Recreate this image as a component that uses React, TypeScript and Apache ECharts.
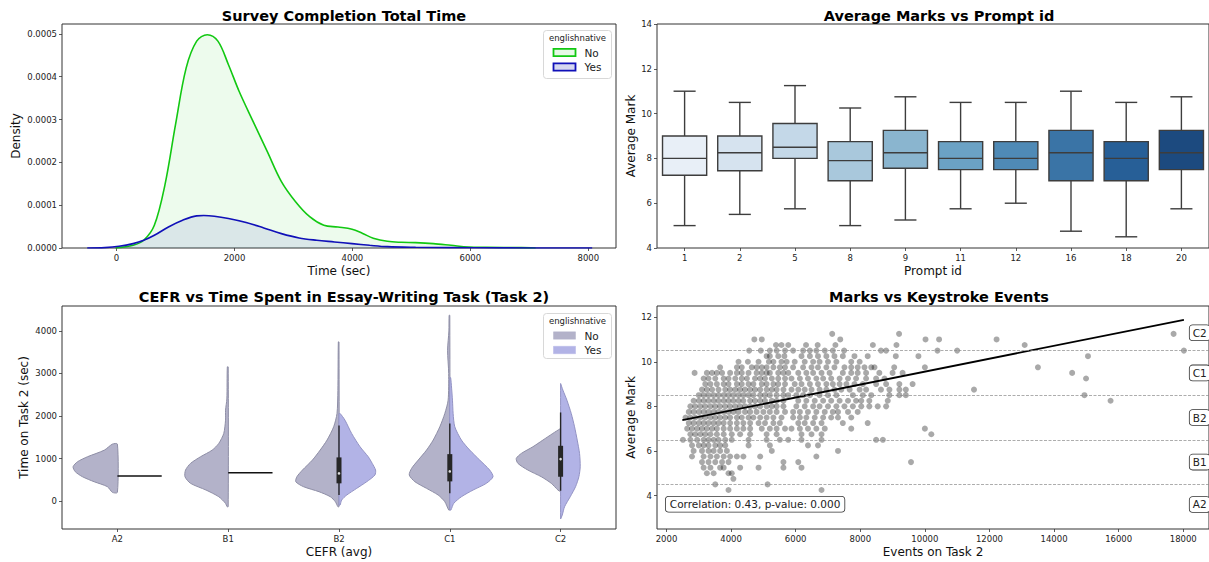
import React, { useEffect, useRef } from "react";
import * as echarts from "echarts";

const FONT = "DejaVu Sans, sans-serif";
const TICK_FS = 8.5;
const NAME_FS = 12;
const TITLE_FS = 14.5;

// ---------- Panel 1: Survey completion KDE ----------
const kdeNoTime = [-18, 281, 461, 641, 820, 1000, 1180, 1359, 1539, 1719, 1898, 2078, 2317, 2557, 2796, 3036, 3275, 3515, 3754, 3994, 4174, 4353, 4593, 4832, 5072, 5371, 5671, 5970, 6269, 6868, 7108];
const kdeNoDensity = [0, 0.0000063, 0.000018, 0.000053, 0.000147, 0.000288, 0.00042, 0.000483, 0.000498, 0.000483, 0.000428, 0.000366, 0.000295, 0.000225, 0.000155, 0.000108, 0.000073, 0.000053, 0.000049, 0.000044, 0.000034, 0.000023, 0.0000156, 0.0000133, 0.0000125, 0.0000102, 0.0000063, 0.0000023, 0.0000016, 0.0000008, 0];
const kdeYesTime = [-497, -198, 42, 281, 461, 641, 880, 1120, 1359, 1479, 1659, 1898, 2198, 2497, 2796, 3096, 3395, 3695, 3994, 4293, 4593, 5072, 5671, 6500, 8066];
const kdeYesDensity = [0, 0.0000008, 0.0000039, 0.0000102, 0.000018, 0.0000297, 0.0000492, 0.0000648, 0.000075, 0.0000758, 0.0000742, 0.0000688, 0.0000594, 0.0000469, 0.0000336, 0.0000234, 0.000018, 0.0000141, 0.0000102, 0.0000063, 0.0000031, 0.0000016, 0.0000008, 0.0000003, 0];
const kdeTimeTicks = [0, 2000, 4000, 6000, 8000];
const kdeDensityTicks = [0, 0.0001, 0.0002, 0.0003, 0.0004, 0.0005];

// ---------- Panel 2: Average marks by prompt ----------
const promptIds = ["1", "2", "5", "8", "9", "11", "12", "16", "18", "20"];
const boxMin = [5.0, 5.5, 5.75, 5.0, 5.25, 5.75, 6.0, 4.75, 4.5, 5.75];
const boxQ1 = [7.25, 7.45, 8.0, 7.0, 7.56, 7.5, 7.5, 7.0, 7.0, 7.5];
const boxMedian = [8.0, 8.25, 8.5, 7.9, 8.25, 8.0, 8.0, 8.25, 8.0, 8.25];
const boxQ3 = [9.0, 9.0, 9.56, 8.75, 9.25, 8.75, 8.75, 9.25, 8.75, 9.25];
const boxMax = [11.0, 10.5, 11.25, 10.25, 10.75, 10.5, 10.5, 11.0, 10.5, 10.75];
const boxColors = ["#e8eff7", "#d6e3ef", "#c4d8e8", "#a9c8dc", "#8ab5cf", "#6ba2c5", "#4f8ab6", "#3a74a6", "#275f97", "#1c4a7f"];

// ---------- Panel 3: CEFR violins (value, half-width as fraction of band) ----------
const cefrLevels = ["A2", "B1", "B2", "C1", "C2"];
const violinNoA2 = [[204, 0.045], [337, 0.09], [454, 0.21], [571, 0.315], [689, 0.38], [806, 0.4], [924, 0.36], [1041, 0.27], [1198, 0.117], [1339, 0.045]];
const violinNoB1 = [[-133, 0.01], [-54, 0.024], [101, 0.085], [258, 0.2], [416, 0.34], [571, 0.39], [728, 0.385], [885, 0.34], [1041, 0.25], [1198, 0.144], [1355, 0.085], [1590, 0.04], [1902, 0.024], [2137, 0.024], [2400, 0.012], [3155, 0.008]];
const violinNoB2 = [[-133, 0.01], [-16, 0.033], [101, 0.078], [219, 0.18], [337, 0.32], [454, 0.39], [571, 0.38], [728, 0.33], [963, 0.24], [1198, 0.17], [1433, 0.108], [1746, 0.048], [2059, 0.018], [2600, 0.01], [3742, 0.006]];
const violinNoC1 = [[-211, 0.01], [-16, 0.045], [141, 0.105], [298, 0.21], [454, 0.315], [611, 0.366], [767, 0.345], [963, 0.285], [1198, 0.21], [1433, 0.15], [1746, 0.09], [2059, 0.045], [2372, 0.015], [3000, 0.01], [3546, 0.02], [4000, 0.008], [4368, 0.006]];
const violinNoC2 = [[219, 0.0], [258, 0.024], [416, 0.084], [571, 0.174], [728, 0.295], [885, 0.385], [1002, 0.4], [1120, 0.354], [1276, 0.25], [1433, 0.16], [1590, 0.07], [1707, 0.0]];
const violinYesB2 = [[-94, 0.01], [23, 0.024], [141, 0.07], [298, 0.16], [454, 0.25], [611, 0.324], [728, 0.33], [885, 0.3], [1041, 0.264], [1276, 0.19], [1590, 0.114], [1902, 0.054], [2059, 0.01]];
const violinYesC1 = [[-211, 0.01], [-54, 0.036], [101, 0.105], [258, 0.21], [416, 0.33], [571, 0.39], [728, 0.36], [963, 0.27], [1198, 0.18], [1433, 0.105], [1746, 0.045], [2059, 0.03], [2372, 0.024], [2900, 0.008]];
const violinYesC2 = [[-423, 0.0], [-329, 0.015], [-133, 0.036], [101, 0.087], [337, 0.135], [571, 0.165], [806, 0.177], [1120, 0.171], [1433, 0.15], [1746, 0.126], [2059, 0.096], [2372, 0.057], [2607, 0.021], [2764, 0.0]];
const violinNoProfiles = [violinNoA2, violinNoB1, violinNoB2, violinNoC1, violinNoC2];
const violinYesProfiles = [null, null, violinYesB2, violinYesC1, violinYesC2];
const yesSingleValue = [587, 665, null, null, null];
// inner box: [cefr index, low whisker, q1, median, q3, high whisker]
const innerBoxStats = [[2, 141, 416, 650, 1026, 1777], [3, 180, 462, 697, 1103, 1824], [4, 242, 571, 986, 1299, 2083]];
const violinTimeTicks = [0, 1000, 2000, 3000, 4000];

// ---------- Panel 4: Marks vs keystroke events ----------
const keystrokeRows = [
  [11.25, [7130, 9200, 17700]],
  [11.0, [4720, 4950, 7380, 10020, 10440, 12220]],
  [10.75, [5390, 5560, 5770, 6320, 6680, 7230, 8390, 9120, 13090]],
  [10.5, [4560, 4920, 5200, 5410, 5670, 5920, 6230, 6440, 6640, 6900, 7150, 7500, 8640, 8800, 10390, 11000, 18020]],
  [10.25, [5100, 5200, 5460, 5650, 6180, 6440, 6690, 6950, 7200, 7460, 7820, 8230, 9100, 9800, 15050]],
  [10.0, [4230, 4520, 4850, 5170, 5310, 5560, 5720, 5970, 6280, 6540, 6740, 7000, 7260, 7720, 7980]],
  [9.75, [3660, 4180, 4330, 4640, 4790, 4950, 5100, 5310, 5510, 5670, 5920, 6230, 6490, 6690, 6950, 7200, 7510, 7720, 7920, 8130, 8340, 8440, 9050, 10000, 13500]],
  [9.5, [2870, 3250, 3410, 3560, 3720, 3970, 4180, 4330, 4540, 4790, 4950, 5100, 5200, 5460, 5620, 5770, 6080, 6330, 6540, 6800, 7050, 7460, 7720, 7920, 8180, 8590, 9000, 9310, 14560]],
  [9.25, [3150, 3300, 3510, 3770, 3920, 4130, 4330, 4490, 4740, 4900, 5050, 5260, 5460, 5670, 5870, 6130, 6380, 6640, 6850, 7100, 7360, 7620, 7870, 8180, 8490, 8750, 14990]],
  [9.0, [3200, 3360, 3560, 3770, 3920, 4180, 4330, 4540, 4690, 4950, 5100, 5310, 5460, 5670, 5970, 6180, 6440, 6690, 6950, 7150, 7360, 7570, 7820, 8080, 8490, 8800, 9210, 9620]],
  [8.75, [3100, 3250, 3410, 3610, 3820, 3970, 4130, 4280, 4430, 4590, 4740, 4900, 5100, 5260, 5410, 5620, 5870, 6080, 6280, 6490, 6740, 6950, 7200, 7410, 7670, 7980, 8180, 8640, 8900, 9210, 9410, 11520]],
  [8.5, [3000, 3150, 3300, 3460, 3610, 3770, 3920, 4070, 4230, 4380, 4540, 4690, 4900, 5050, 5200, 5410, 5620, 5770, 6020, 6230, 6440, 6740, 7000, 7260, 7770, 8080, 8340, 8900, 9210, 9410, 14940]],
  [8.25, [2840, 3000, 3150, 3300, 3460, 3610, 3770, 3920, 4070, 4230, 4380, 4590, 4740, 4900, 5050, 5260, 5410, 5620, 6080, 6330, 6590, 6850, 7100, 7360, 7620, 7870, 8030, 8280, 8850, 15750]],
  [8.0, [2740, 2890, 3050, 3200, 3360, 3510, 3660, 3820, 3970, 4130, 4280, 4430, 4590, 4740, 4900, 5100, 5260, 5410, 5620, 6020, 6280, 6540, 6740, 7000, 7260, 7510, 7770, 8030, 8280, 8540, 8800]],
  [7.75, [2690, 2840, 3000, 3150, 3300, 3460, 3610, 3770, 3920, 4070, 4230, 4430, 4590, 4790, 5000, 5200, 5410, 5670, 5920, 6130, 6380, 6640, 6900, 7150, 7310, 7620, 7920]],
  [7.5, [2590, 2740, 2890, 3050, 3200, 3360, 3510, 3660, 3820, 3970, 4180, 4330, 4540, 4690, 4900, 5100, 5310, 5560, 5920, 6130, 6330, 6590, 6850, 7100, 7310, 7720]],
  [7.25, [2690, 2840, 3000, 3150, 3300, 3460, 3610, 3770, 3970, 4180, 4380, 4590, 4850, 5050, 5310, 5510, 6080, 6280, 6540, 6800, 7460, 8230]],
  [7.0, [2640, 2790, 2950, 3100, 3250, 3410, 3560, 3770, 3970, 4180, 4380, 4590, 4950, 5200, 5410, 5670, 5870, 6130, 6380, 6640, 6900, 7720, 10000]],
  [6.75, [2740, 2890, 3050, 3200, 3360, 3560, 3770, 4020, 4280, 4590, 5100, 5410, 6180, 6490, 6800, 10200]],
  [6.5, [2510, 2740, 2950, 3150, 3300, 3460, 3610, 3820, 4020, 4540, 5100, 5510, 5770, 6180, 6800, 8490, 8700]],
  [6.25, [2790, 3000, 3150, 3300, 3510, 3660, 3820, 4540, 5200, 6380, 6690]],
  [6.0, [2840, 3100, 3300, 3460, 3660, 3870, 5260, 7310]],
  [5.75, [2790, 3150, 3360, 3560, 3770, 3970, 4180, 4380, 4900, 6640]],
  [5.5, [3100, 3300, 3510, 3720, 3920, 5620, 6080, 9570]],
  [5.25, [3150, 3360, 3660, 3770, 4280, 4850, 5620, 6180]],
  [5.0, [3250, 3460, 3920, 4020]],
  [4.75, [4070]],
  [4.5, [3510, 5130]],
  [4.25, [3920, 6800]],
];
const regressionEvents = [2490, 18020];
const regressionMarks = [7.38, 11.88];
const cefrBoundaries = [4.5, 6.5, 8.5, 10.5];
const cefrBandLabels = ["A2", "B1", "B2", "C1", "C2"];
const cefrBandLabelMarks = [3.6, 5.5, 7.5, 9.5, 11.3];
const cefrBandLabelEvents = 18200;
const eventTicks = [2000, 4000, 6000, 8000, 10000, 12000, 14000, 16000, 18000];
const markTicks = [4, 6, 8, 10, 12];

const AXIS_COLOR = "#333";
const TEXT_COLOR = "#222";
const plainNum = (v: number) => String(v);

function valueAxis(gridIndex: number, min: number, max: number, ticks: number[] | null, extra: any = {}) {
  const base: any = {
    type: "value",
    gridIndex,
    min,
    max,
    splitLine: { show: false },
    axisLine: { show: false, onZero: false },
    axisTick: { show: true, length: 3, lineStyle: { color: AXIS_COLOR, width: 0.8 } },
    axisLabel: { fontSize: TICK_FS, color: TEXT_COLOR, fontFamily: FONT, margin: 5, formatter: plainNum },
    nameLocation: "middle",
    nameTextStyle: { fontSize: NAME_FS, color: "#111", fontFamily: FONT },
  };
  if (ticks) {
    base.axisTick.customValues = ticks;
    base.axisLabel.customValues = ticks;
  }
  return { ...base, ...extra, axisLabel: { ...base.axisLabel, ...(extra.axisLabel || {}) } };
}

function categoryAxis(gridIndex: number, data: string[], extra: any = {}) {
  return {
    type: "category",
    gridIndex,
    data,
    boundaryGap: true,
    splitLine: { show: false },
    axisLine: { show: false, onZero: false },
    axisTick: { show: true, alignWithLabel: true, length: 3, lineStyle: { color: AXIS_COLOR, width: 0.8 } },
    axisLabel: { fontSize: TICK_FS, color: TEXT_COLOR, fontFamily: FONT, margin: 5 },
    nameLocation: "middle",
    nameTextStyle: { fontSize: NAME_FS, color: "#111", fontFamily: FONT },
    ...extra,
  };
}

function legendGroup(left: number, top: number, h: number, entries: any[]) {
  const children: any[] = [
    { type: "rect", shape: { x: 0, y: 0, width: 68, height: h, r: 3 }, style: { fill: "#fff", stroke: "#d8d8d8", lineWidth: 1 } },
    { type: "text", x: 34, y: 7, style: { text: "englishnative", fontSize: 8.5, fontFamily: FONT, fill: TEXT_COLOR, align: "center", verticalAlign: "middle", textAlign: "center", textVerticalAlign: "middle" } },
  ];
  entries.forEach((e, i) => {
    const cy = 22 + i * 14.5;
    children.push({ type: "rect", shape: { x: 10, y: cy - 3.7, width: 22, height: 7.4 }, style: { fill: e.fill, stroke: e.stroke, lineWidth: e.lw } });
    children.push({ type: "text", x: 41, y: cy, style: { text: e.label, fontSize: 10.5, fontFamily: FONT, fill: TEXT_COLOR, align: "left", verticalAlign: "middle", textAlign: "left", textVerticalAlign: "middle" } });
  });
  return { type: "group", left, top, children };
}

function halfViolin(api: any, cat: number, side: number, profile: number[][], fill: string, stroke: string) {
  const bw = api.size([1, 0])[0];
  const cx = api.coord([cat, profile[0][0]])[0];
  const pts: number[][] = [];
  pts.push([cx, api.coord([cat, profile[0][0]])[1]]);
  profile.forEach(([v, w]) => {
    const y = api.coord([cat, v])[1];
    pts.push([cx + side * w * bw, y]);
  });
  pts.push([cx, api.coord([cat, profile[profile.length - 1][0]])[1]]);
  return { type: "polygon", shape: { points: pts, smooth: 0.25 }, style: { fill, stroke, lineWidth: 1 } };
}

function buildOption() {
  const scatterData: number[][] = [];
  keystrokeRows.forEach(([mark, evts]: any) => {
    evts.forEach((e: number) => scatterData.push([e, mark]));
  });
  const titleStyle = { fontSize: TITLE_FS, fontWeight: "bold", color: "#000", fontFamily: FONT };

  return {
    animation: false,
    backgroundColor: "#fff",
    textStyle: { fontFamily: FONT },
    title: [
      { text: "Survey Completion Total Time", left: 339, top: 3, textAlign: "center", textStyle: titleStyle },
      { text: "Average Marks vs Prompt id", left: 934, top: 3, textAlign: "center", textStyle: titleStyle },
      { text: "CEFR vs Time Spent in Essay-Writing Task (Task 2)", left: 339, top: 284, textAlign: "center", textStyle: titleStyle },
      { text: "Marks vs Keystroke Events", left: 934, top: 284, textAlign: "center", textStyle: titleStyle },
    ],
    grid: [
      { left: 62, top: 24, width: 554, height: 224, show: true, borderColor: AXIS_COLOR, borderWidth: 1, backgroundColor: "transparent" },
      { left: 657, top: 24, width: 554, height: 224, show: true, borderColor: AXIS_COLOR, borderWidth: 1, backgroundColor: "transparent" },
      { left: 62, top: 306, width: 554, height: 223, show: true, borderColor: AXIS_COLOR, borderWidth: 1, backgroundColor: "transparent" },
      { left: 657, top: 306, width: 554, height: 223, show: true, borderColor: AXIS_COLOR, borderWidth: 1, backgroundColor: "transparent" },
    ],
    xAxis: [
      valueAxis(0, -925, 8470, kdeTimeTicks, { name: "Time (sec)", nameGap: 17 }),
      categoryAxis(1, promptIds, { name: "Prompt id", nameGap: 17 }),
      categoryAxis(2, cefrLevels, { name: "CEFR (avg)", nameGap: 17 }),
      valueAxis(3, 1706, 18797, eventTicks, { name: "Events on Task 2", nameGap: 17 }),
    ],
    yAxis: [
      valueAxis(0, 0, 0.000523, kdeDensityTicks, { name: "Density", nameGap: 40, axisLabel: { formatter: (v: number) => v.toFixed(4) } }),
      valueAxis(1, 4, 14, null, { interval: 2, name: "Average Mark", nameGap: 20 }),
      valueAxis(2, -658, 4587, violinTimeTicks, { name: "Time on Task 2 (sec)", nameGap: 32 }),
      valueAxis(3, 2.5, 12.5, markTicks, { name: "Average Mark", nameGap: 20 }),
    ],
    series: [
      {
        type: "line", xAxisIndex: 0, yAxisIndex: 0, name: "No",
        data: kdeNoTime.map((t, i) => [t, kdeNoDensity[i]]),
        showSymbol: false, symbol: "none", smooth: 0.35,
        lineStyle: { color: "#12c812", width: 1.6 },
        areaStyle: { color: "rgba(20,200,20,0.11)" },
        z: 2,
      },
      {
        type: "line", xAxisIndex: 0, yAxisIndex: 0, name: "Yes",
        data: kdeYesTime.map((t, i) => [t, kdeYesDensity[i]]),
        showSymbol: false, symbol: "none", smooth: 0.35,
        lineStyle: { color: "#1010b8", width: 1.6 },
        areaStyle: { color: "rgba(16,16,184,0.12)" },
        z: 3,
      },
      {
        type: "custom", xAxisIndex: 1, yAxisIndex: 1,
        data: promptIds.map((_, i) => [i, boxMin[i], boxQ1[i], boxMedian[i], boxQ3[i], boxMax[i]]),
        renderItem: (params: any, api: any) => {
          const idx = api.value(0);
          const bw = api.size([1, 0])[0];
          const cx = api.coord([idx, api.value(1)])[0];
          const yMin = api.coord([idx, api.value(1)])[1];
          const yQ1 = api.coord([idx, api.value(2)])[1];
          const yMed = api.coord([idx, api.value(3)])[1];
          const yQ3 = api.coord([idx, api.value(4)])[1];
          const yMax = api.coord([idx, api.value(5)])[1];
          const half = bw * 0.4;
          const cap = bw * 0.2;
          const edge = "#3d3d3d";
          const ls = { stroke: edge, lineWidth: 1.4 };
          return {
            type: "group",
            children: [
              { type: "line", shape: { x1: cx, y1: yQ3, x2: cx, y2: yMax }, style: ls },
              { type: "line", shape: { x1: cx, y1: yQ1, x2: cx, y2: yMin }, style: ls },
              { type: "line", shape: { x1: cx - cap, y1: yMax, x2: cx + cap, y2: yMax }, style: ls },
              { type: "line", shape: { x1: cx - cap, y1: yMin, x2: cx + cap, y2: yMin }, style: ls },
              { type: "rect", shape: { x: cx - half, y: yQ3, width: 2 * half, height: yQ1 - yQ3 }, style: { fill: boxColors[idx], stroke: edge, lineWidth: 1.4 } },
              { type: "line", shape: { x1: cx - half, y1: yMed, x2: cx + half, y2: yMed }, style: ls },
            ],
          };
        },
        z: 2,
      },
      {
        type: "custom", xAxisIndex: 2, yAxisIndex: 2,
        data: cefrLevels.map((_, i) => [i, violinNoProfiles[i][0][0]]),
        renderItem: (params: any, api: any) => {
          const cat = api.value(0);
          const bw = api.size([1, 0])[0];
          const children: any[] = [];
          children.push(halfViolin(api, cat, -1, violinNoProfiles[cat], "#b3b2c9", "#8e8ea6"));
          const yes = violinYesProfiles[cat];
          if (yes) {
            children.push(halfViolin(api, cat, 1, yes, "#b2b3e6", "#9393c4"));
          }
          const single = yesSingleValue[cat];
          if (single !== null) {
            const p = api.coord([cat, single]);
            children.push({ type: "line", shape: { x1: p[0], y1: p[1], x2: p[0] + 0.4 * bw, y2: p[1] }, style: { stroke: "#111", lineWidth: 1.6 } });
          }
          const st = innerBoxStats.find((s) => s[0] === cat);
          if (st) {
            const cx = api.coord([cat, st[1]])[0];
            const yLo = api.coord([cat, st[1]])[1];
            const yQ1 = api.coord([cat, st[2]])[1];
            const yMed = api.coord([cat, st[3]])[1];
            const yQ3 = api.coord([cat, st[4]])[1];
            const yHi = api.coord([cat, st[5]])[1];
            children.push({ type: "line", shape: { x1: cx, y1: yLo, x2: cx, y2: yHi }, style: { stroke: "#262626", lineWidth: 1.4 } });
            children.push({ type: "rect", shape: { x: cx - 2.5, y: yQ3, width: 5, height: yQ1 - yQ3 }, style: { fill: "#262626" } });
            children.push({ type: "circle", shape: { cx, cy: yMed, r: 1.3 }, style: { fill: "#ddd" } });
          }
          return { type: "group", children };
        },
        z: 2,
      },
      {
        type: "scatter", xAxisIndex: 3, yAxisIndex: 3,
        data: scatterData,
        symbolSize: 6,
        itemStyle: { color: "rgba(0,0,0,0.42)" },
        markLine: {
          silent: true,
          symbol: ["none", "none"],
          label: { show: false },
          lineStyle: { type: [3, 1.5], color: "#8a8a8a", width: 0.7 },
          data: cefrBoundaries.map((v) => ({ yAxis: v })),
        },
        z: 2,
      },
      {
        type: "line", xAxisIndex: 3, yAxisIndex: 3,
        data: regressionEvents.map((e, i) => [e, regressionMarks[i]]),
        showSymbol: false, symbol: "none",
        lineStyle: { color: "#000", width: 1.8 },
        z: 4,
      },
      {
        type: "custom", xAxisIndex: 3, yAxisIndex: 3,
        data: cefrBandLabels.map((l, i) => [cefrBandLabelEvents, cefrBandLabelMarks[i], l]),
        renderItem: (params: any, api: any) => {
          const p = api.coord([api.value(0), api.value(1)]);
          return {
            type: "text",
            x: p[0],
            y: p[1],
            style: {
              text: cefrBandLabels[params.dataIndex],
              fontSize: 10.5, fontFamily: FONT, fill: TEXT_COLOR,
              align: "left", verticalAlign: "middle", textAlign: "left", textVerticalAlign: "middle",
              backgroundColor: "#fff", borderColor: "#333", borderWidth: 0.8, borderRadius: 3, padding: [2, 3, 2, 3],
            },
          };
        },
        z: 5,
      },
    ],
    graphic: [
      legendGroup(543, 30, 48, [
        { label: "No", fill: "#e6f9e6", stroke: "#12c812", lw: 1.8 },
        { label: "Yes", fill: "#d6d8f0", stroke: "#1010b8", lw: 1.8 },
      ]),
      legendGroup(543, 313, 45, [
        { label: "No", fill: "#b3b2c9", stroke: "#b3b2c9", lw: 0.5 },
        { label: "Yes", fill: "#b2b3e6", stroke: "#b2b3e6", lw: 0.5 },
      ]),
      {
        type: "text", left: 665, top: 496,
        style: {
          text: "Correlation: 0.43, p-value: 0.000",
          fontSize: 10.5, fontFamily: FONT, fill: TEXT_COLOR,
          backgroundColor: "#fff", borderColor: "#333", borderWidth: 0.8, borderRadius: 3, padding: [2, 4, 2, 4],
        },
        z: 10,
      },
    ],
  };
}

export default function App() {
  const ref = useRef<HTMLDivElement>(null);
  useEffect(() => {
    if (!ref.current) return;
    const chart = echarts.init(ref.current, undefined, { renderer: "svg" });
    chart.setOption(buildOption() as any);
    return () => chart.dispose();
  }, []);
  return (
    <div style={{ position: "fixed", left: 0, top: 0, width: 1209, height: 562, overflow: "hidden", background: "#fff" }}>
      <div ref={ref} style={{ width: 1209, height: 562 }} />
    </div>
  );
}
